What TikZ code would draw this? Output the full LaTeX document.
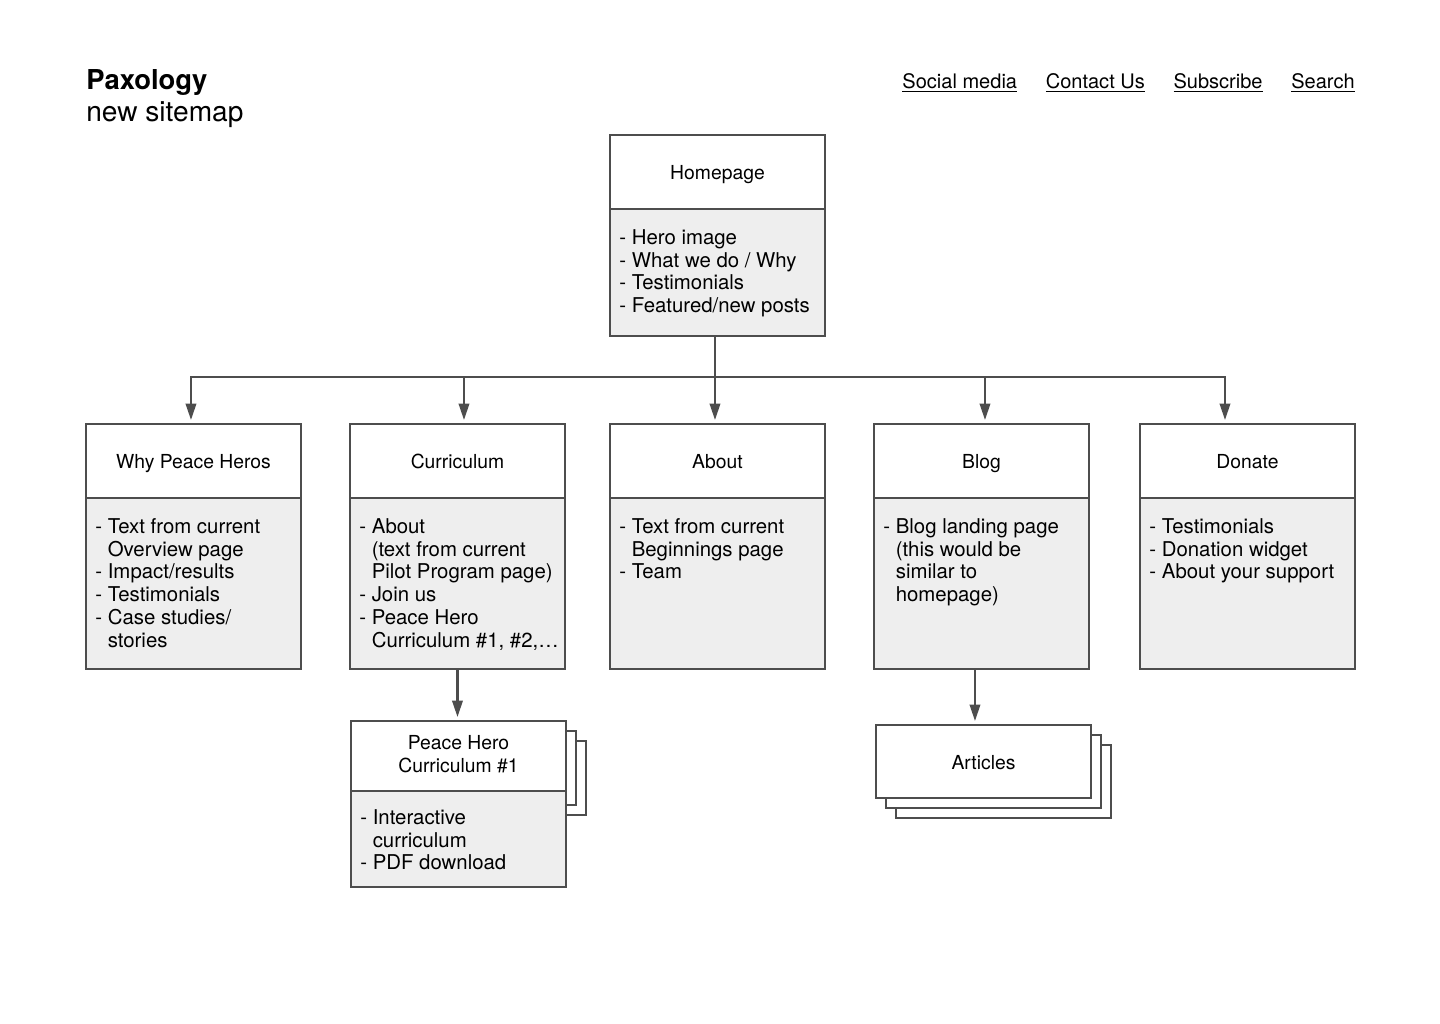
\documentclass[tikz,border=0pt]{standalone}
\usepackage{fontspec}
\setmainfont{TeX Gyre Heros}
\usetikzlibrary{positioning,calc,arrows.meta,backgrounds}
\definecolor{edgegray}{HTML}{4D4D4D}
\definecolor{bodygray}{HTML}{EEEEEE}
\tikzset{
  page/.style={draw=edgegray, line width=1.3pt, fill=white, minimum width=4.3cm, minimum height=1.48cm, inner sep=0pt, outer sep=0pt, anchor=north west, align=center, font=\fontsize{11}{13}\selectfont, execute at begin node={\rule[-2.6pt]{0pt}{13.8pt}}},
  pagebody/.style={draw=edgegray, line width=1.3pt, fill=bodygray, minimum width=4.3cm, inner sep=0pt, outer sep=0pt, anchor=north},
  notes/.style={anchor=north west, align=left, inner sep=0pt, font=\fontsize{11.6}{13}\selectfont},
  link/.style={inner sep=0pt, font=\fontsize{11.4}{13}\selectfont},
  wire/.style={draw=edgegray, line width=1.3pt},
  arr/.style={wire, -{Triangle[length=0.33cm,width=0.21cm]}, shorten >=0.08cm},
}
\newcommand{\cont}{\phantom{- }}
\begin{document}
\begin{tikzpicture}[x=0.02cm, y=-0.02cm]
  \useasboundingbox (0,0) rectangle (1440,1024);

  \node[anchor=base west, inner sep=0pt, font=\bfseries\fontsize{15.6}{18}\selectfont] (brand) at (86,90) {Paxology};
  \node[anchor=base west, inner sep=0pt, font=\fontsize{16}{18}\selectfont] (subtitle) at (86,122) {new sitemap};

  \node[link, anchor=base east] (search) at (1355,89) {\underline{Search}};
  \node[link, base left=0.56cm of search] (subscribe) {\underline{Subscribe}};
  \node[link, base left=0.56cm of subscribe] (contact) {\underline{Contact Us}};
  \node[link, base left=0.56cm of contact] (social) {\underline{Social media}};

  \node[page] (home) at (610,135) {Homepage};
  \node[pagebody, minimum height=2.54cm] (home-body) at (home.south) {};
  \node[notes] (home-notes) at ($(home-body.north west)+(9,20)$) {- Hero image\\- What we do / Why\\- Testimonials\\- Featured/new posts};

  \node[page] (why) at (86,424) {Why Peace Heros};
  \node[pagebody, minimum height=3.42cm] (why-body) at (why.south) {};
  \node[notes] (why-notes) at ($(why-body.north west)+(9,20)$) {- Text from current\\\cont Overview page\\- Impact/results\\- Testimonials\\- Case studies/\\\cont stories};

  \node[page] (curr) at (350,424) {Curriculum};
  \node[pagebody, minimum height=3.42cm] (curr-body) at (curr.south) {};
  \node[notes] (curr-notes) at ($(curr-body.north west)+(9,20)$) {- About\\\cont(text from current\\\cont Pilot Program page)\\- Join us\\- Peace Hero\\\cont Curriculum \#1, \#2,\dots};

  \node[page] (about) at (610,424) {About};
  \node[pagebody, minimum height=3.42cm] (about-body) at (about.south) {};
  \node[notes] (about-notes) at ($(about-body.north west)+(9,20)$) {- Text from current\\\cont Beginnings page\\- Team};

  \node[page] (blog) at (874,424) {Blog};
  \node[pagebody, minimum height=3.42cm] (blog-body) at (blog.south) {};
  \node[notes] (blog-notes) at ($(blog-body.north west)+(9,20)$) {- Blog landing page\\\cont(this would be\\\cont similar to\\\cont homepage)};

  \node[page] (donate) at (1140,424) {Donate};
  \node[pagebody, minimum height=3.42cm] (donate-body) at (donate.south) {};
  \node[notes] (donate-notes) at ($(donate-body.north west)+(9,20)$) {- Testimonials\\- Donation widget\\- About your support};

  \node[page, minimum height=1.4cm] (hero) at (351,721) {Peace Hero\\Curriculum \#1};
  \node[pagebody, minimum height=1.92cm] (hero-body) at (hero.south) {};
  \node[notes] (hero-notes) at ($(hero-body.north west)+(9,18)$) {- Interactive\\\cont curriculum\\- PDF download};

  \node[page, minimum height=1.46cm] (articles) at (876,725) {Articles};

  \begin{scope}[on background layer]
    \fill[white] (0,0) rectangle (1440,1024);
    \foreach \s in {20,10} {
      \draw[wire, fill=white] ($(hero.north west)+(\s,\s)$) rectangle ($(hero.south east)+(\s,\s+4)$);
      \draw[wire, fill=white] ($(articles.north west)+(\s,\s)$) rectangle ($(articles.south east)+(\s,\s)$);
    }
  \end{scope}

  \coordinate (bus) at (0,377);
  \foreach \n/\dx in {why/-2.5, curr/6.5, about/-2.5, blog/3.5, donate/-22.5}
    \coordinate (\n-in) at ($(\n.north)+(\dx,0)$);
  \coordinate (home-out) at ($(home-body.south)+(-2.5,0)$);
  \coordinate (blog-out) at ($(blog-body.south)+(-6.5,0)$);

  \draw[arr] (home-out) -- (about-in);
  \draw[arr] (about-in |- bus) -| (why-in);
  \draw[arr] (about-in |- bus) -| (donate-in);
  \draw[arr] (curr-in |- bus) -- (curr-in);
  \draw[arr] (blog-in |- bus) -- (blog-in);
  \draw[arr] (curr-body.south) -- (curr-body.south |- hero.north);
  \draw[arr] (blog-out) -- (blog-out |- articles.north);
\end{tikzpicture}
\end{document}
